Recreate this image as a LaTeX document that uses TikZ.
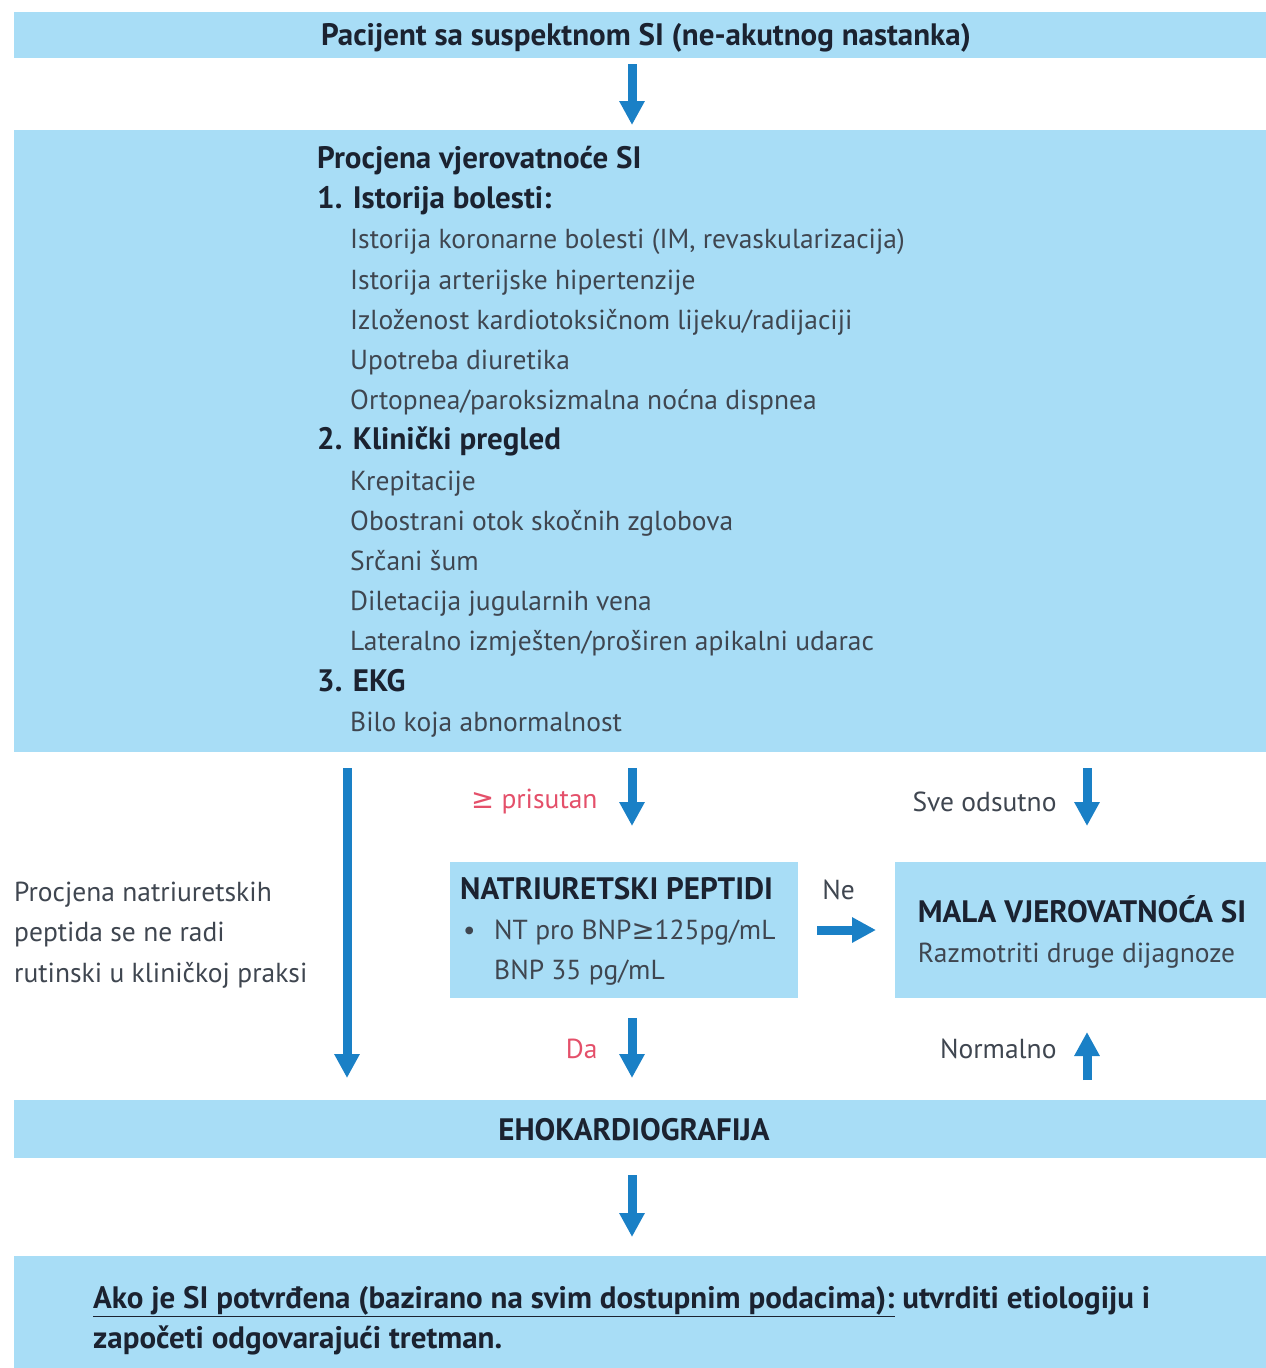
\documentclass[tikz,border=0pt]{standalone}
\usepackage{fontspec}
\setmainfont{PT Sans}
\newfontfamily\symfont{DejaVu Sans}
\usetikzlibrary{arrows.meta,positioning}

\definecolor{boxblue}{HTML}{A8DDF6}
\definecolor{arrowblue}{HTML}{1A80C6}
\definecolor{txtgray}{HTML}{3F4650}
\definecolor{hdark}{HTML}{1B2230}
\definecolor{lblred}{HTML}{E4506A}

% heading line and indented item line inside the boxes
\newcommand{\crhead}[1]{{\fontsize{31}{40.2}\selectfont\bfseries\color{hdark}#1}}
\newcommand{\critem}[1]{\hspace*{33pt}#1}

\tikzset{
  box/.style={fill=boxblue, inner sep=0pt, outer sep=0pt},
  flow/.style={arrowblue, line width=9pt, -{Triangle[width=24pt,length=24pt]}},
  txt/.style={font=\fontsize{27.5}{40.2}\selectfont, text=txtgray, inner sep=0pt},
  headtxt/.style={txt, font=\fontsize{31}{40.2}\selectfont\bfseries, text=hdark},
  lbl/.style={txt},
  redlbl/.style={txt, text=lblred},
}

\begin{document}
\begin{tikzpicture}[x=1pt,y=-1pt]

\useasboundingbox (0,0) rectangle (1266,1368);

% the wide bands
\node[box, minimum width=1252, minimum height=46] (start) at (640,35) {};
\node[box, minimum width=1252, minimum height=622] (assess) at (640,441) {};
\node[box, minimum width=1252, minimum height=58] (echo) at (640,1129) {};
\node[box, minimum width=1252, minimum height=112] (result) at (640,1312) {};

% the two small boxes
\node[box, minimum width=348, minimum height=136] (np) at (624,930) {};
\node[box, minimum width=371, minimum height=136] (low) at (1080.5,930) {};

% texts
\node[headtxt] (starttxt) at (646,38) {Pacijent sa suspektnom SI (ne-akutnog nastanka)};

\node[txt, align=left, anchor=north west] (crit) at (317,146) {%
  \crhead{Procjena vjerovatnoće SI}\\
  \crhead{1. Istorija bolesti:}\\
  \critem{Istorija koronarne bolesti (IM, revaskularizacija)}\\
  \critem{Istorija arterijske hipertenzije}\\
  \critem{Izloženost kardiotoksičnom lijeku/radijaciji}\\
  \critem{Upotreba diuretika}\\
  \critem{Ortopnea/paroksizmalna noćna dispnea}\\
  \crhead{2. Klinički pregled}\\
  \critem{Krepitacije}\\
  \critem{Obostrani otok skočnih zglobova}\\
  \critem{Srčani šum}\\
  \critem{Diletacija jugularnih vena}\\
  \critem{Lateralno izmješten/proširen apikalni udarac}\\
  \crhead{3. EKG}\\
  \critem{Bilo koja abnormalnost}};

\node[txt, align=left, anchor=north west] (nptxt) at (460,877) {%
  \crhead{NATRIURETSKI PEPTIDI}\\
  \makebox[34pt][l]{\hspace*{3pt}•}NT pro BNP{\symfont ≥}125pg/mL\\
  \hspace*{34pt}BNP 35 pg/mL};

\node[txt, align=left] (lowtxt) at (1082,932) {%
  \crhead{MALA VJEROVATNOĆA SI}\\
  Razmotriti druge dijagnoze};

\node[txt, align=left, anchor=north west] (skip) at (14,882) {%
  Procjena natriuretskih\\
  peptida se ne radi\\
  rutinski u kliničkoj praksi};

\node[headtxt] (echotxt) at (634,1130) {EHOKARDIOGRAFIJA};

\node[headtxt, align=left, anchor=north west] (resulttxt) at (93,1286) {%
  \underline{Ako je SI potvrđena (bazirano na svim dostupnim podacima):} utvrditi etiologiju i\\
  započeti odgovarajući tretman.};

% arrow columns
\coordinate (midcol) at (632,0);
\coordinate (leftcol) at (347,0);
\coordinate (rightcol) at (1087,0);

% connectors
\draw[flow, shorten <=6pt, shorten >=5pt] (start.south -| midcol) -- (assess.north -| midcol);
\draw[flow, shorten <=16pt, shorten >=22pt] (assess.south -| leftcol) -- (echo.north -| leftcol);
\draw[flow, shorten <=16pt, shorten >=36pt] (assess.south -| midcol) -- (np.north -| midcol)
  node[redlbl, midway, left=30pt, yshift=5pt] {{\symfont ≥} prisutan};
\draw[flow, shorten <=16pt, shorten >=36pt] (assess.south -| rightcol) -- (low.north -| rightcol)
  node[lbl, midway, left=26pt, yshift=5pt] {Sve odsutno};
\draw[flow, shorten <=19pt, shorten >=19pt] (np.east) -- (low.west)
  node[lbl, midway, above=26pt, xshift=-8pt] {Ne};
\draw[flow, shorten <=20pt, shorten >=22pt] (np.south -| midcol) -- (echo.north -| midcol)
  node[redlbl, midway, left=30pt] {Da};
\draw[flow, shorten <=20pt, shorten >=34pt] (echo.north -| rightcol) -- (low.south -| rightcol)
  node[lbl, midway, left=26pt] {Normalno};
\draw[flow, shorten <=17pt, shorten >=19pt] (echo.south -| midcol) -- (result.north -| midcol);

\end{tikzpicture}
\end{document}
